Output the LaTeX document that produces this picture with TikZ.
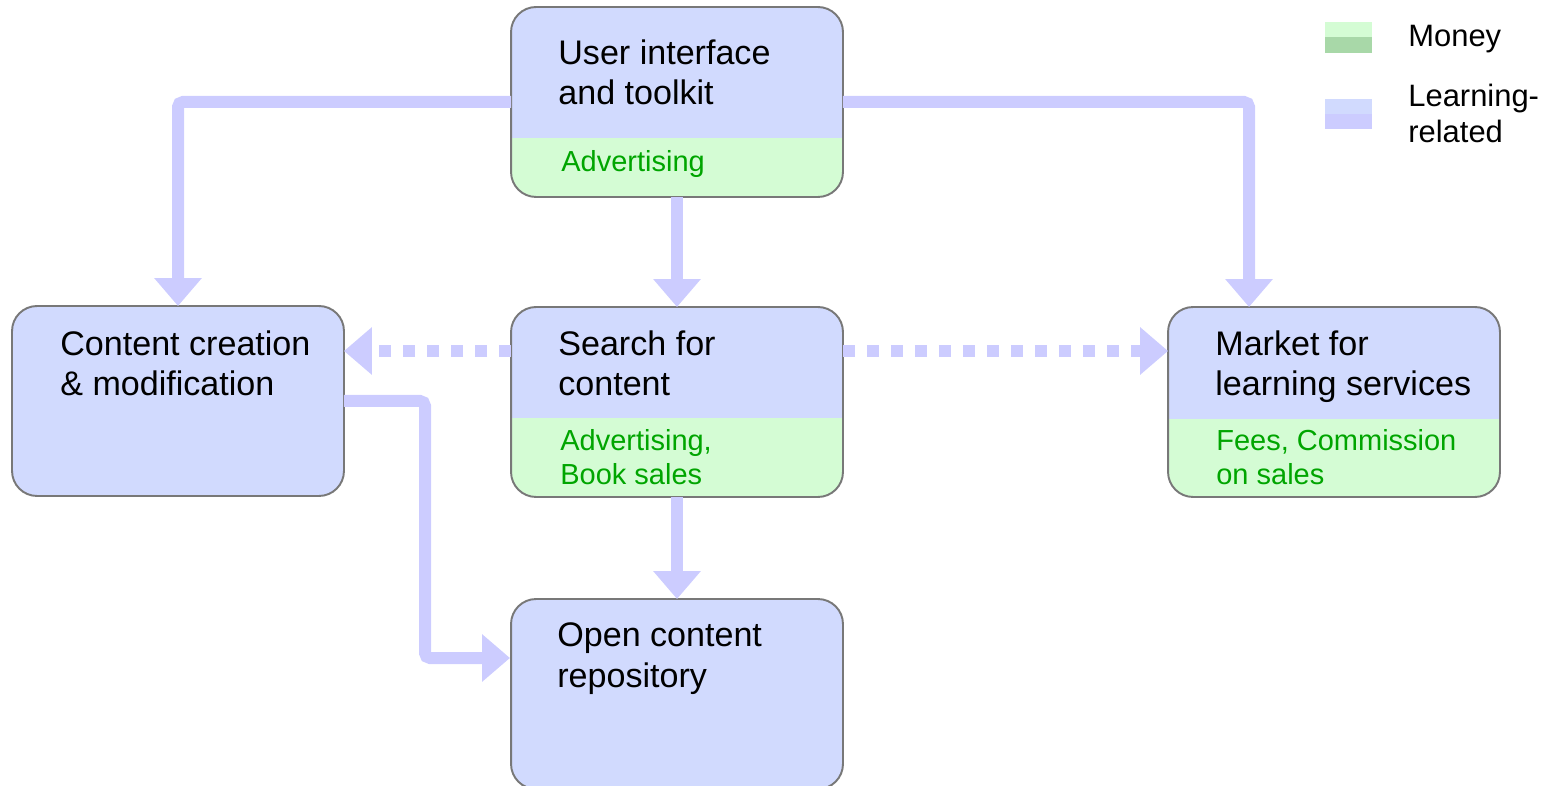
\documentclass[tikz,border=0pt]{standalone}
\usepackage{fontspec}
\setmainfont{Liberation Sans}
\usetikzlibrary{arrows.meta,calc,positioning}

\definecolor{learnfill}{RGB}{209,218,254}
\definecolor{learnline}{RGB}{204,204,255}
\definecolor{moneyfill}{RGB}{212,252,212}
\definecolor{moneydark}{RGB}{168,216,168}
\definecolor{moneytext}{RGB}{0,165,0}
\definecolor{boxborder}{RGB}{120,120,120}

\tikzset{
    box/.style={fill=learnfill,rounded corners=0.5cm,minimum width=6.64cm,minimum height=3.8cm,inner sep=0,outer sep=0},
    boxline/.style={draw=boxborder,line width=1.1pt,rounded corners=0.5cm},
    title/.style={anchor=base west,align=left,inner sep=0,font=\fontsize{19.4}{23.3}\selectfont},
    money/.style={anchor=base west,align=left,inner sep=0,text=moneytext,font=\fontsize{16.5}{19.9}\selectfont},
    legend/.style={anchor=base west,align=left,inner sep=0,font=\fontsize{17.6}{21}\selectfont},
    flow/.style={learnline,line width=0.24cm,rounded corners=0.1cm,-{Triangle[width=0.92cm,length=0.56cm]}},
    hint/.style={flow,dash pattern=on 0.24cm off 0.24cm},
}

\begin{document}
\begin{tikzpicture}[x=0.02cm,y=-0.02cm]
        \useasboundingbox (0,0) rectangle (1557,786);

        % Boxes
        \node[box] (ui) at (677,102) {};
        \node[box] (create) at (178,401) {};
        \node[box] (search) at (677,402) {};
        \node[box] (market) at (1334,402) {};
        \node[box] (repo) at (677,694) {};

        \foreach \b/\t in {ui/138, search/418, market/419} {
            \begin{scope}
                \clip[rounded corners=0.5cm] (\b.south west) rectangle (\b.north east);
                \fill[moneyfill] (\b.south west) rectangle (\b.east |- 0,\t);
            \end{scope}
        }

        \foreach \b in {ui, create, search, market, repo} {
            \draw[boxline] (\b.south west) rectangle (\b.north east);
        }

        % Texts (base = last line)
        \node[title] (uitext) at (558,105) {User interface\\and toolkit};
        \node[money] (uimoney) at (561,172) {Advertising};
        \node[title] (createtext) at (60,396) {Content creation\\\& modification};
        \node[title] (searchtext) at (558,396) {Search for\\content};
        \node[money] (searchmoney) at (560,485) {Advertising,\\Book sales};
        \node[title] (markettext) at (1215,396) {Market for\\learning services};
        \node[money] (marketmoney) at (1216,485) {Fees, Commission\\on sales};
        \node[title] (repotext) at (557,687) {Open content\\repository};

        % Arrows
        \coordinate (marketin) at (1249,307);
        \coordinate (repoin) at (510,658);
        \coordinate (bend) at (425,0);
        \coordinate (hintrow) at (0,351);

        \draw[flow] (ui.west) -| (create.north);
        \draw[flow] (ui.east) -| (marketin);
        \draw[flow] (ui.south) -- (search.north);
        \draw[flow] (search.south) -- (repo.north);
        \draw[flow] (create.east) -| (bend |- repoin) -- (repoin);

        \draw[hint] (search.west |- hintrow) -- (create.east |- hintrow);
        \draw[hint] (search.east |- hintrow) -- (market.west |- hintrow);

        % Legend
        \fill[moneyfill] (1325,22) rectangle (1372,37);
        \fill[moneydark] (1325,37) rectangle (1372,53);
        \fill[learnfill] (1325,99) rectangle (1372,114);
        \fill[learnline] (1325,114) rectangle (1372,129);
        \node[legend] (moneykey) at (1408,47) {Money};
        \node[legend] (learnkey) at (1408,143) {Learning-\\related};
\end{tikzpicture}
\end{document}
